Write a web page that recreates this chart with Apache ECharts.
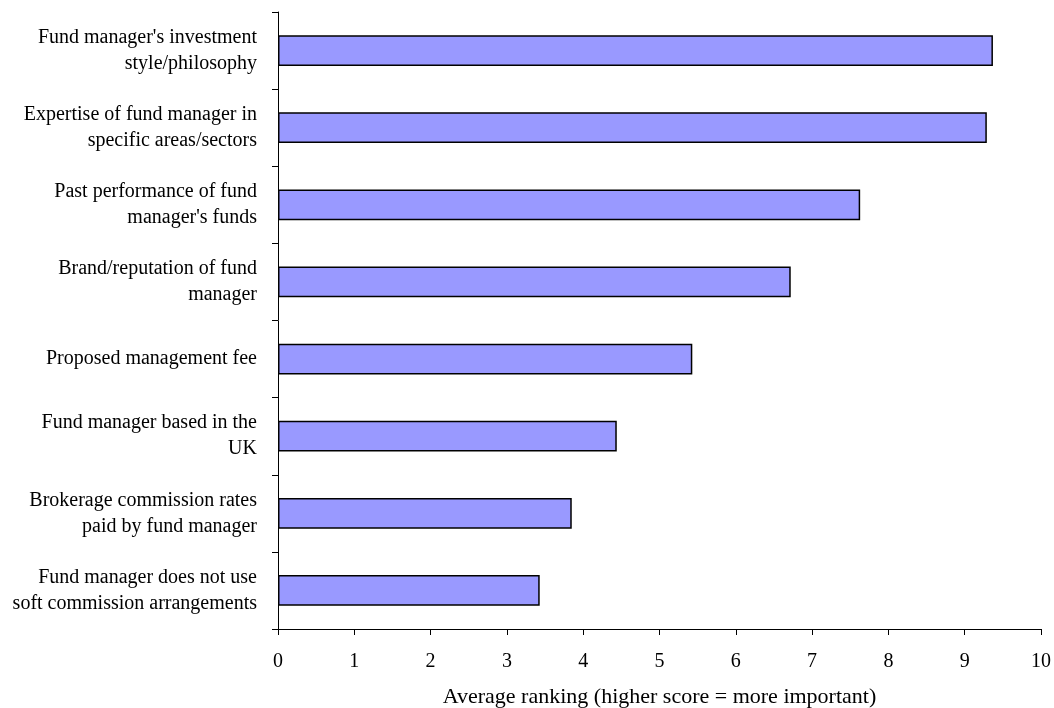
<!DOCTYPE html>
<html>
<head>
<meta charset="utf-8">
<script src="https://cdn.jsdelivr.net/npm/echarts@6/dist/echarts.min.js"></script>
<style>html,body{margin:0;padding:0;background:#fff;overflow:hidden;}#chart{width:1054px;height:708px;}</style>
</head>
<body>
<div id="chart"></div>
<script>
const categories = [
  "Fund manager's investment\nstyle/philosophy",
  "Expertise of fund manager in\nspecific areas/sectors",
  "Past performance of fund\nmanager's funds",
  "Brand/reputation of fund\nmanager",
  "Proposed management fee",
  "Fund manager based in the\nUK",
  "Brokerage commission rates\npaid by fund manager",
  "Fund manager does not use\nsoft commission arrangements"
];
const values = [9.37, 9.29, 7.63, 6.72, 5.43, 4.44, 3.85, 3.43];
const xTicks = { min: 0, max: 10, interval: 1 };
const xName = "Average ranking (higher score = more important)";

const chart = echarts.init(document.getElementById('chart'), null, { renderer: 'canvas' });
const font = "'Liberation Serif', 'Times New Roman', serif";
chart.setOption({
  animation: false,
  backgroundColor: '#fff',
  grid: { left: 278, right: 13, top: 12, bottom: 79, containLabel: false, outerBoundsMode: 'none' },
  xAxis: {
    type: 'value', min: xTicks.min, max: xTicks.max, interval: xTicks.interval,
    name: xName, nameLocation: 'middle', nameGap: 57,
    nameTextStyle: { fontFamily: font, fontSize: 22, color: '#000' },
    axisLine: { show: true, lineStyle: { color: '#000', width: 1 } },
    axisTick: { show: true, length: 6, lineStyle: { color: '#000' } },
    axisLabel: { fontFamily: font, fontSize: 20, color: '#000', margin: 23 },
    splitLine: { show: false }
  },
  yAxis: {
    type: 'category', inverse: true, data: categories,
    axisLine: { show: true, lineStyle: { color: '#000', width: 1 } },
    axisTick: { show: true, length: 6, lineStyle: { color: '#000' } },
    axisLabel: { fontFamily: font, fontSize: 20, color: '#000', margin: 21, lineHeight: 26, align: 'right' },
    splitLine: { show: false }
  },
  series: [{
    type: 'bar', data: values, barCategoryGap: '60%',
    itemStyle: { color: '#9999FF', borderColor: '#000', borderWidth: 1.5 }
  }]
});
</script>
</body>
</html>
